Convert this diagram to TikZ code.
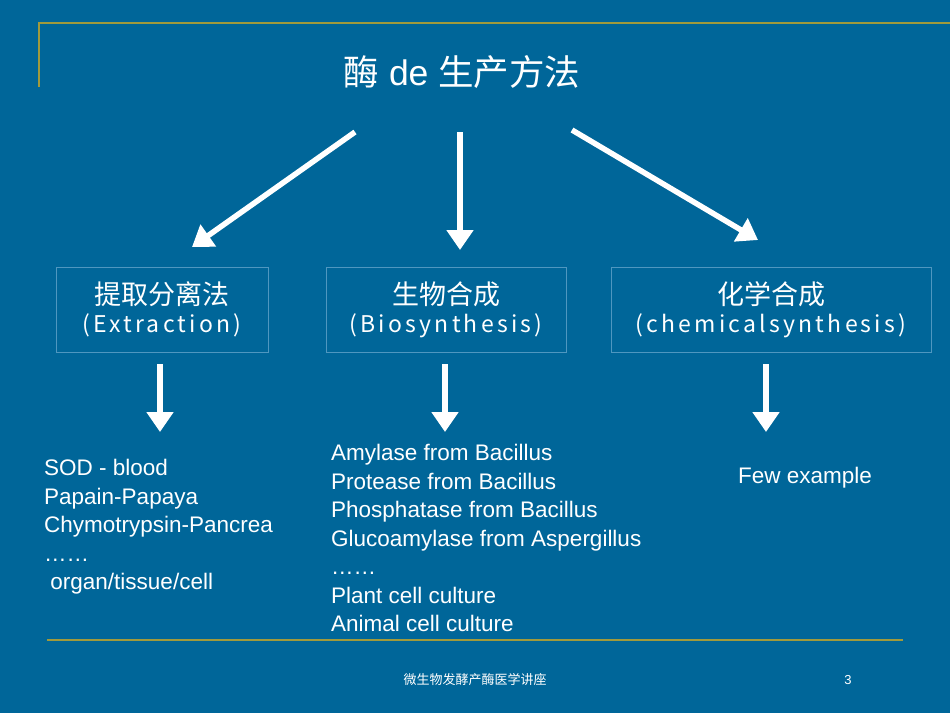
\documentclass[tikz,border=0pt]{standalone}
\usepackage{fontspec}
\setmainfont{Liberation Sans}
\newfontfamily\cjk{Noto Sans CJK SC}
\newfontfamily\cjkspaced[LetterSpace=14]{Noto Sans CJK SC}
\usetikzlibrary{arrows.meta,positioning}
\definecolor{slidebg}{HTML}{006699}
\definecolor{goldline}{HTML}{A09A3C}
\definecolor{boxline}{HTML}{4F97C0}
\tikzset{
  bigarrow/.style={white, line width=5.5pt, -{Triangle[length=20pt,width=26pt]}},
  methodbox/.style={draw=boxline, line width=0.8pt, text=white, align=center, inner sep=0pt},
  listtext/.style={text=white, anchor=north west, align=left, font=\fontsize{22.5}{28.5}\selectfont, inner sep=0pt}
}
\begin{document}
\begin{tikzpicture}[x=1pt,y=-1pt]
  \fill[slidebg] (0,0) rectangle (950,713);
  \useasboundingbox (0,0) rectangle (950,713);
  % frame lines
  \draw[goldline, line width=2pt] (39,87) -- (39,23) -- (950,23);
  \draw[goldline, line width=2pt] (47,640) -- (903,640);
  % title
  \node[text=white, font=\fontsize{35.5}{40}\selectfont] (title) at (462,72) {{\cjk 酶} de {\cjk 生产方法}};
  % boxes
  \node[methodbox, minimum width=212pt, minimum height=85pt] (extract) at (162,309.5)
    {{\cjk\fontsize{27}{27}\selectfont 提取分离法}\\[6pt]{\cjkspaced\fontsize{23}{23}\selectfont (Extraction)}};
  \node[methodbox, minimum width=240pt, minimum height=85pt] (bio) at (446,309.5)
    {{\cjk\fontsize{27}{27}\selectfont 生物合成}\\[6pt]{\cjkspaced\fontsize{23}{23}\selectfont (Biosynthesis)}};
  \node[methodbox, minimum width=320pt, minimum height=85pt] (chem) at (771,309.5)
    {{\cjk\fontsize{27}{27}\selectfont 化学合成}\\[6pt]{\cjkspaced\fontsize{23}{23}\selectfont (chemicalsynthesis)}};
  % upper arrows
  \coordinate (t1) at (355,132); \coordinate (h1) at (192,247);
  \coordinate (t2) at (460,132); \coordinate (h2) at (460,250);
  \coordinate (t3) at (572,130); \coordinate (h3) at (758,240);
  \draw[bigarrow] (t1) -- (h1);
  \draw[bigarrow] (t2) -- (h2);
  \draw[bigarrow] (t3) -- (h3);
  % lists
  \node[listtext] (extractlist) at (44,459)
    {SOD - blood\\Papain-Papaya\\Chymotrypsin-Pancrea\\……\\\ organ/tissue/cell};
  \node[listtext] (biolist) at (331,444)
    {Amylase from Bacillus\\Protease from Bacillus\\Phosphatase from Bacillus\\Glucoamylase from Aspergillus\\……\\Plant cell culture\\Animal cell culture};
  \node[listtext] (chemlist) at (738,467) {Few example};
  % lower arrows
  \coordinate (b1) at (160,432); \coordinate (b2) at (445,432); \coordinate (b3) at (766,432);
  \draw[bigarrow] (extract.south -| b1) ++(0,12) -- (b1);
  \draw[bigarrow] (bio.south -| b2) ++(0,12) -- (b2);
  \draw[bigarrow] (chem.south -| b3) ++(0,12) -- (b3);
  % footer
  \node[text=white, font=\cjk\fontsize{13}{16}\selectfont] (footer) at (475,680) {微生物发酵产酶医学讲座};
  \node[text=white, font=\fontsize{13}{16}\selectfont] (page) at (848,680) {3};
\end{tikzpicture}
\end{document}
